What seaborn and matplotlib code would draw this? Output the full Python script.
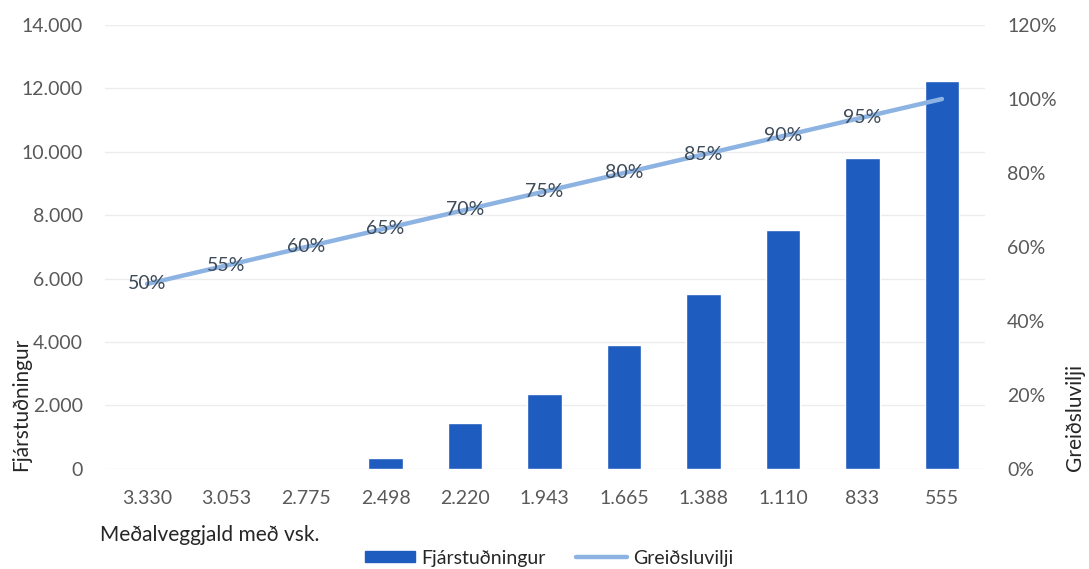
import numpy as np
import pandas as pd
import matplotlib
matplotlib.use("Agg")
import matplotlib.pyplot as plt
import seaborn as sns
from matplotlib.patches import Patch
from matplotlib.lines import Line2D
from matplotlib.ticker import FuncFormatter

categories = ["3.330", "3.053", "2.775", "2.498", "2.220", "1.943",
              "1.665", "1.388", "1.110", "833", "555"]
fjarstudningur = [0, 0, 0, 350, 1450, 2350, 3900, 5500, 7550, 9800, 12250]
greidsluvilji = [0.50, 0.55, 0.60, 0.65, 0.70, 0.75, 0.80, 0.85, 0.90, 0.95, 1.00]
left_ticks = [0, 2000, 4000, 6000, 8000, 10000, 12000, 14000]
right_ticks = [0, 0.2, 0.4, 0.6, 0.8, 1.0, 1.2]

sns.set_theme(style="white")
plt.rcParams['font.family'] = ['Lato', 'DejaVu Sans']

BAR = "#1f5cbf"
LINE = "#8db3e2"
TICK = "#595959"
TXT = "#3d4a58"

df = pd.DataFrame({"cat": categories, "val": fjarstudningur,
                   "pos": np.arange(len(categories)), "pct": greidsluvilji})

fig = plt.figure(figsize=(10.89, 5.69), dpi=100)
ax = fig.add_axes([0.0964, 0.176, 0.808, 0.780])

sns.barplot(data=df, x="cat", y="val", order=categories, color=BAR,
            saturation=1, width=0.43, ax=ax, zorder=2)
ax.set_ylim(0, 14000)
ax.set_yticks(left_ticks)
ax.yaxis.set_major_formatter(FuncFormatter(lambda v, p: f"{int(v):,}".replace(",", ".")))
ax.grid(axis="y", color="#ececec", linewidth=1.0, zorder=0)
ax.set_axisbelow(True)
for s in ax.spines.values():
    s.set_visible(False)
ax.tick_params(axis="both", length=0, labelsize=14, labelcolor=TICK)
ax.tick_params(axis="y", pad=16)
ax.tick_params(axis="x", pad=15)
ax.set_xlabel("")
ax.set_ylabel("")

ax2 = ax.twinx()
sns.lineplot(data=df, x="pos", y="pct", color=LINE, linewidth=3.2, ax=ax2,
             solid_capstyle="round")
ax2.set_ylim(0, 1.2)
ax2.set_yticks(right_ticks)
ax2.yaxis.set_major_formatter(FuncFormatter(lambda v, p: f"{v*100:.0f}%"))
for s in ax2.spines.values():
    s.set_visible(False)
ax2.tick_params(axis="y", length=0, labelsize=14, labelcolor=TICK, pad=16)
ax2.set_xlim(-0.53, 10.54)
ax.set_xlim(-0.53, 10.54)
ax2.set_ylabel("")
ax2.set_xlabel("")

# data labels (the last one is hidden behind the bar in the original)
for x, y in list(zip(df["pos"], df["pct"]))[:-1]:
    ax2.text(x, y, f"{y*100:.0f}%", ha="center", va="center",
             fontsize=14, color=TXT)

fig.text(0.019, 0.172, "Fjárstuðningur", rotation=90, ha="center", va="bottom",
         fontsize=15, color="#262626")
fig.text(0.987, 0.172, "Greiðsluvilji", rotation=90, ha="center", va="bottom",
         fontsize=15, color="#262626")
fig.text(0.092, 0.06, "Meðalveggjald með vsk.", ha="left", va="center",
         fontsize=15, color="#262626")

handles = [Patch(facecolor=BAR, edgecolor=BAR),
           Line2D([0], [0], color=LINE, linewidth=3.2)]
fig.legend(handles, ["Fjárstuðningur", "Greiðsluvilji"], loc="center",
           bbox_to_anchor=(0.504, 0.019), ncol=2, frameon=False, fontsize=14,
           handlelength=2.6, handleheight=0.5, columnspacing=1.6,
           handletextpad=0.3, labelcolor="#262626", borderpad=0)

fig.savefig("out.png", dpi=100)
